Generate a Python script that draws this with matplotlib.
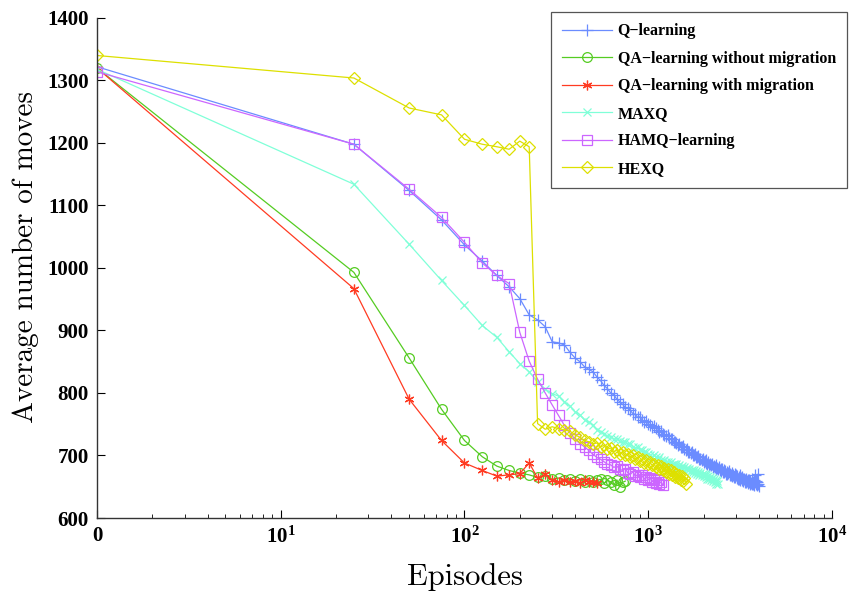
import numpy as np
import matplotlib
matplotlib.use('Agg')
import matplotlib.pyplot as plt
from matplotlib.ticker import FixedLocator, FixedFormatter, LogLocator, NullFormatter

plt.rcParams['font.family'] = 'serif'
plt.rcParams['font.serif'] = ['Liberation Serif', 'DejaVu Serif']
plt.rcParams['mathtext.fontset'] = 'custom'
plt.rcParams['mathtext.rm'] = 'Liberation Serif'
plt.rcParams['mathtext.bf'] = 'Liberation Serif:bold'

# episodes are logged every 25, first point at episode "0" drawn at x=1
start_x = 1

q_start = 1322
q_learning = [
    1198, 1124, 1077, 1037, 1011, 988, 970, 951, 925, 917, 906, 882,
    880, 877, 865, 856, 850, 842, 838, 834, 826, 820, 812, 807,
    800, 797, 790, 786, 782, 777, 776, 772, 767, 766, 761, 762,
    757, 754, 755, 751, 749, 745, 747, 744, 740, 738, 739, 735,
    733, 731, 733, 728, 726, 727, 722, 721, 720, 716, 718, 714,
    713, 715, 710, 709, 711, 706, 705, 704, 706, 701, 700, 702,
    698, 697, 699, 694, 695, 692, 694, 690, 691, 688, 692, 687,
    689, 685, 686, 684, 686, 682, 683, 681, 684, 679, 680, 678,
    681, 676, 678, 675, 679, 674, 676, 673, 675, 671, 674, 670,
    672, 675, 669, 671, 668, 672, 667, 669, 666, 670, 665, 668,
    664, 667, 663, 666, 662, 668, 661, 664, 660, 665, 662, 659,
    663, 658, 661, 657, 662, 659, 656, 660, 657, 661, 655, 659,
    656, 662, 654, 658, 655, 660, 653, 657, 668, 654, 659, 652,
    657, 670, 655, 651,
]

qa_nomig_start = 1320
qa_nomig = [
    993, 856, 774, 724, 698, 683, 676, 672, 669, 665, 667, 662,
    664, 660, 663, 659, 662, 658, 661, 657, 660, 662, 656, 660,
    658, 652, 661, 650, 657, 659,
]

qa_mig_start = 1320
qa_mig = [
    967, 790, 724, 688, 676, 667, 669, 671, 688, 664, 670, 660,
    658, 661, 657, 659, 656, 660, 657, 658, 656,
]

maxq_start = 1318
maxq = [
    1134, 1038, 980, 940, 908, 889, 866, 847, 834, 818, 806, 799,
    795, 786, 779, 770, 765, 757, 753, 749, 741, 738, 735, 731,
    729, 726, 727, 723, 721, 722, 718, 719, 714, 712, 713, 709,
    708, 705, 706, 703, 700, 698, 701, 697, 695, 697, 693, 691,
    693, 689, 690, 687, 689, 685, 687, 684, 686, 682, 684, 680,
    683, 679, 681, 678, 680, 676, 679, 675, 677, 673, 676, 672,
    675, 671, 673, 669, 672, 668, 671, 667, 670, 665, 668, 663,
    667, 662, 665, 660, 664, 659, 662, 657, 661, 655, 659, 654,
]

hamq_start = 1314
hamq = [
    1198, 1126, 1081, 1041, 1008, 988, 975, 897, 851, 822, 800, 781,
    764, 748, 736, 726, 719, 714, 708, 702, 697, 694, 690, 686,
    685, 681, 683, 678, 676, 679, 672, 670, 674, 667, 669, 665,
    668, 662, 666, 661, 664, 658, 662, 656, 660, 655, 658, 653,
]

hexq_start = 1340
hexq = [
    1304, 1256, 1245, 1206, 1198, 1194, 1190, 1203, 1194, 751, 742, 746,
    743, 741, 739, 733, 729, 724, 722, 719, 720, 714, 716, 710,
    712, 706, 709, 703, 705, 700, 703, 697, 700, 694, 697, 691,
    694, 688, 692, 686, 689, 684, 687, 681, 685, 679, 683, 676,
    680, 674, 678, 671, 676, 669, 674, 666, 671, 664, 669, 661,
    667, 659, 664, 655,
]

labels = ['Q\u2212learning', 'QA\u2212learning without migration',
          'QA\u2212learning with migration', 'MAXQ', 'HAMQ\u2212learning', 'HEXQ']
colors = ['#6b8cff', '#55cc22', '#ff3b22', '#80ffd8', '#cc66ff', '#dde000']
markers = ['+', 'o', (6, 2, 0), 'x', 's', 'D']
msizes = [8, 7, 7, 6, 7, 6.5]
starts = [q_start, qa_nomig_start, qa_mig_start, maxq_start, hamq_start, hexq_start]
series = [q_learning, qa_nomig, qa_mig, maxq, hamq, hexq]

fig = plt.figure(figsize=(8.6, 5.92), dpi=100)
ax = fig.add_axes([0.1128, 0.125, 0.8546, 0.8446])

for lab, col, mk, ms, s0, vals in zip(labels, colors, markers, msizes, starts, series):
    x = [start_x] + [25 * (i + 1) for i in range(len(vals))]
    y = [s0] + vals
    ax.plot(x, y, color=col, lw=0.9, marker=mk, ms=ms, mfc='none', mec=col,
            mew=0.9, label=lab)

ax.set_xscale('log')
ax.set_xlim(1, 1e4)
ax.set_ylim(600, 1400)
ax.set_yticks(np.arange(600, 1401, 100))
ax.xaxis.set_major_locator(FixedLocator([1, 10, 100, 1000, 10000]))
ax.xaxis.set_major_formatter(FixedFormatter(['0', r'$\mathbf{10^{1}}$', r'$\mathbf{10^{2}}$',
                                             r'$\mathbf{10^{3}}$', r'$\mathbf{10^{4}}$']))
ax.xaxis.set_minor_locator(LogLocator(base=10, subs=np.arange(2, 10)))
ax.xaxis.set_minor_formatter(NullFormatter())

for sp in ['top', 'right']:
    ax.spines[sp].set_visible(False)
for sp in ['left', 'bottom']:
    ax.spines[sp].set_color('#333333')
    ax.spines[sp].set_linewidth(1.0)

ax.tick_params(which='major', direction='in', length=6, width=0.8, labelsize=15, pad=6)
ax.tick_params(which='minor', direction='in', length=3, width=0.6)
for t in ax.get_yticklabels() + ax.get_xticklabels():
    t.set_fontweight('bold')

ax.set_xlabel('Episodes', fontsize=22, family='cmr10')
ax.set_ylabel('Average number of moves', fontsize=21, family='cmr10')
ax.xaxis.set_label_coords(0.5, -0.09)
ax.yaxis.set_label_coords(-0.079, 0.522)

leg = ax.legend(loc='upper right', bbox_to_anchor=(1.0204, 1.012), borderaxespad=0,
                prop={'weight': 'bold', 'size': 11.5},
                handlelength=3.1, handletextpad=0.35, labelspacing=0.72, borderpad=0.7,
                fancybox=False, edgecolor='#555555', framealpha=1)
leg.get_frame().set_linewidth(0.9)

fig.savefig('out.png', dpi=100)
